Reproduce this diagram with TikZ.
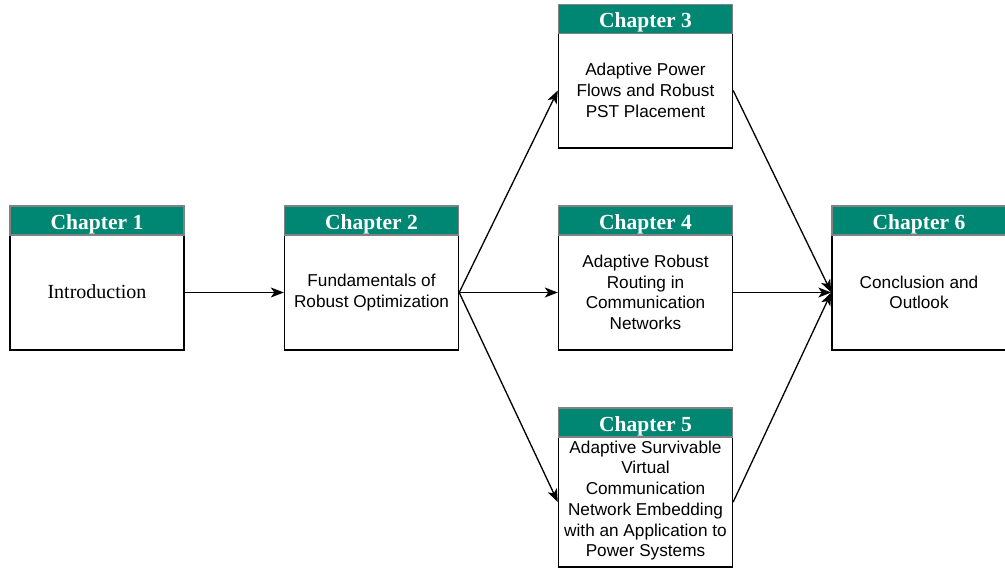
\documentclass[tikz,border=0pt]{standalone}
\usepackage{fontspec}
\setmainfont{Liberation Serif}
\setsansfont{Liberation Sans}
\usetikzlibrary{arrows.meta}
\definecolor{teal1}{RGB}{0,135,115}
\definecolor{hborder}{RGB}{130,130,130}
\tikzset{
  head/.style={draw=hborder, fill=teal1, line width=1.3pt, minimum width=174pt, minimum height=29pt, inner sep=0pt,
    text height=17.6pt, text depth=0pt,
    text=white, font=\fontsize{21.5}{24}\selectfont\bfseries},
  body/.style={draw=black, fill=white, line width=1.4pt, minimum width=174pt, inner sep=0pt,
    align=center, font=\sffamily\fontsize{17.2}{20.7}\selectfont},
  conn/.style={line width=1.3pt, -{Stealth[length=13pt,width=10pt,inset=3.5pt]}}
}
\begin{document}
\begin{tikzpicture}[x=1pt,y=-1pt]
\useasboundingbox (0,0) rectangle (1005,570);
% Chapter 1
\node[body, minimum height=115pt] (b1) at (97,292.5) {};
\node[font=\fontsize{20}{23}\selectfont] (t1) at (97,292) {Introduction};
\node[head] (h1) at (97,220.5) {Chapter 1};
% Chapter 2
\node[body, minimum height=115pt] (b2) at (371.5,292.5) {Fundamentals of\\Robust Optimization};
\node[head] (h2) at (371.5,220.5) {Chapter 2};
% Chapter 3
\node[body, minimum height=115pt] (b3) at (645.5,90.5) {Adaptive Power\\Flows and Robust\\PST Placement};
\node[head] (h3) at (645.5,19) {Chapter 3};
% Chapter 4
\node[body, minimum height=115pt] (b4) at (645.5,292.5) {Adaptive Robust\\Routing in\\Communication\\Networks};
\node[head] (h4) at (645.5,220.5) {Chapter 4};
% Chapter 5
\node[body, minimum height=130pt] (b5) at (645.5,502) {};
\node[body, draw=none, fill=none] (t5) at (645.5,500.5) {Adaptive Survivable\\Virtual\\Communication\\Network Embedding\\with an Application to\\Power Systems};
\node[head] (h5) at (645.5,422.5) {Chapter 5};
% Chapter 6
\node[body, minimum height=115pt] (b6) at (919,292.5) {Conclusion and\\Outlook};
\node[head] (h6) at (919,220.5) {Chapter 6};
% connectors
\draw[conn] (b1.east) -- (b2.west);
\draw[conn] (b2.east) -- (b3.west);
\draw[conn] (b2.east) -- (b4.west);
\draw[conn] (b2.east) -- (b5.west);
\draw[conn] (b3.east) -- (b6.west);
\draw[conn] (b4.east) -- (b6.west);
\draw[conn] (b5.east) -- (b6.west);
\end{tikzpicture}
\end{document}
